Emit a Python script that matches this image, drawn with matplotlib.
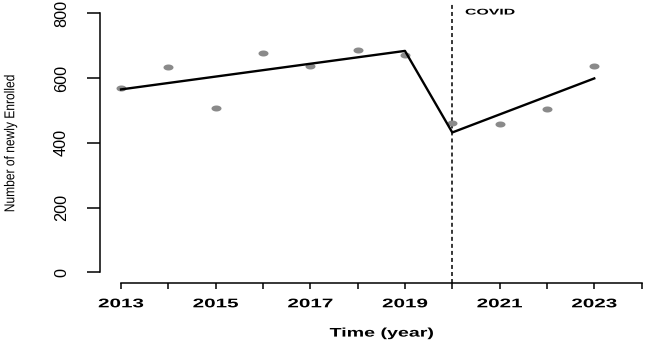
import matplotlib
matplotlib.use("Agg")
import matplotlib.pyplot as plt
import numpy as np
from matplotlib.path import Path
from matplotlib.patheffects import AbstractPathEffect
from matplotlib.transforms import Affine2D

years = [2013, 2014, 2015, 2016, 2017, 2018, 2019, 2020, 2021, 2022, 2023]
enrolled = [568, 633, 507, 677, 637, 688, 671, 460, 459, 503, 637]
fit_years = [2013, 2019, 2020, 2023]
fit_values = [565, 684, 432, 599]
xtick_labels = ["2013", "", "2015", "", "2017", "", "2019", "", "2021", "", "2023", ""]
xtick_pos = list(range(2013, 2025))
yticks = [0, 200, 400, 600, 800]


class Stretch(AbstractPathEffect):
    """Scale drawn text about its own centre (in device space)."""
    def __init__(self, sx=1.0, sy=1.0):
        super().__init__()
        self.sx, self.sy = sx, sy

    def draw_path(self, renderer, gc, tpath, affine, rgbFace=None):
        ext = tpath.get_extents(affine)
        cx = (ext.x0 + ext.x1) / 2
        cy = (ext.y0 + ext.y1) / 2
        t = affine + Affine2D().translate(-cx, -cy).scale(self.sx, self.sy).translate(cx, cy)
        renderer.draw_path(gc, tpath, t, rgbFace)


W, H = 646, 343
fig = plt.figure(figsize=(W / 100, H / 100), dpi=100)
left, right, top, bottom = 100.2, 662.4, 3.0, 283.3
ax = fig.add_axes([left / W, 1 - bottom / H, (right - left) / W, (bottom - top) / H])

t = np.linspace(0, 2 * np.pi, 40)
ell = Path(np.column_stack([np.cos(t), 0.6 * np.sin(t)]))

ax.scatter(years, enrolled, marker=ell, s=52, color="#8a8a8a", zorder=2, linewidths=0)
ax.plot(fit_years, fit_values, color="black", lw=1.7, zorder=3)
ax.axvline(2020, color="black", lw=1.1, ls=(0, (2.6, 2.0)), zorder=1)
ax.text(2020.8, 801, "COVID", fontsize=6, fontweight="bold", family="Liberation Sans",
        va="center", ha="center", path_effects=[Stretch(1.9, 1.0)])

ax.set_xlim(2012.56, 2024.44)
ax.set_ylim(-34, 832)
for s in ["top", "right"]:
    ax.spines[s].set_visible(False)
ax.spines["left"].set_bounds(0, 800)
ax.spines["bottom"].set_bounds(2013, 2024)
ax.spines["left"].set_linewidth(1.1)
ax.spines["bottom"].set_linewidth(1.1)

ax.set_xticks(xtick_pos)
ax.set_xticklabels(xtick_labels, fontsize=9, fontweight="bold", family="Liberation Sans")
for lab in ax.get_xticklabels():
    lab.set_path_effects([Stretch(1.65, 1.0)])
ax.set_yticks(yticks)
ax.set_yticklabels([str(v) for v in yticks], rotation=90, va="center",
                   fontsize=11.7, family="Liberation Sans")
ax.tick_params(axis="x", length=4.3, width=1.1, pad=6.5)
ax.tick_params(axis="y", length=9.4, width=1.1, pad=13.0)

ax.set_xlabel("Time (year)", fontsize=9, fontweight="bold", family="Liberation Sans",
              va="top", path_effects=[Stretch(1.57, 1.0)])
ax.xaxis.set_label_coords(0.5007, -0.158)
ax.set_ylabel("Number of newly Enrolled", fontsize=10.3, family="Liberation Sans",
              va="center", path_effects=[Stretch(1.0, 0.84)])
ax.yaxis.set_label_coords(-0.16, 0.5)
ax.patch.set_visible(False)

fig.savefig("out.png", dpi=100)
